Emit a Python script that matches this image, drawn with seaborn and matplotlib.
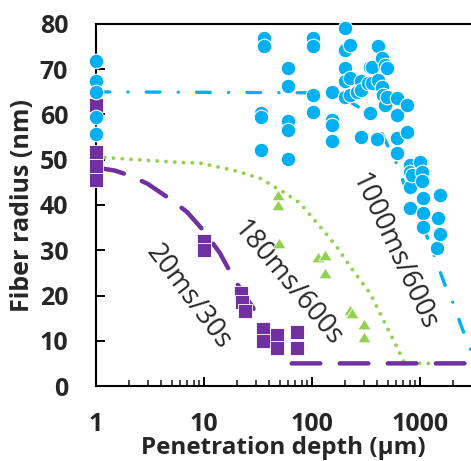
import matplotlib
matplotlib.use("Agg")
import matplotlib.pyplot as plt
import seaborn as sns
from matplotlib.ticker import LogLocator, NullFormatter, FixedLocator

sns.set_style("ticks")
plt.rcParams["font.family"] = ["Open Sans", "DejaVu Sans"]
plt.rcParams["lines.scale_dashes"] = False
plt.rcParams["xtick.direction"] = "in"
plt.rcParams["ytick.direction"] = "in"
plt.rcParams["xtick.major.pad"] = 18.5
plt.rcParams["ytick.major.pad"] = 20

# ---------------- data ----------------
blue_x = [1, 1, 1, 1, 1,
          33.6, 33.6, 33.6, 35.9, 35.9,
          60.3, 60.3, 60.3, 60.3, 60.3,
          101, 101, 101, 101,
          152, 152, 152, 152,
          202, 202, 202, 202, 202,
          225, 225, 225, 258,
          282, 282, 282, 333, 344, 344, 357, 357,
          398, 411, 411, 442, 442, 457, 473, 473, 491, 491,
          608, 608, 608, 608, 753, 753,
          808, 808, 808, 808, 837, 1000, 1037, 1037,
          1074, 1074, 1074, 1427, 1480, 1531, 1531]
blue_y = [71.8, 67.4, 64.9, 59.4, 55.6,
          60.4, 59.5, 52.2, 76.8, 75.2,
          70.2, 66.4, 58.6, 56.6, 50.2,
          77, 75.2, 64.4, 60.6,
          65, 58.8, 57.7, 54.1,
          79.2, 74.3, 70.2, 67.3, 63.9,
          75.4, 68, 64.3, 65,
          67.3, 65.4, 55.1, 66.9, 70.6, 60.3, 70.6, 66.9,
          54.6, 75.2, 67.6, 72.4, 66.1, 64.3, 71, 62.1, 70.2, 63.9,
          63.6, 59.9, 54.9, 51.6, 62.2, 56.1,
          48.8, 47.4, 44, 39.3, 46.6, 49.6, 47.4, 45.2,
          41.5, 38.2, 35.2, 30.4, 37.1, 42.2, 33.7]

purple_x = [1, 1, 1, 1, 10, 10, 22, 22.5, 24, 35, 35, 47, 47, 72, 72]
purple_y = [62.2, 51.8, 48.7, 45.5, 32, 30, 20.5, 18.5, 16.5, 12.5, 10, 11.3, 8.3, 12, 8.5]

green_x = [48.7, 48.7, 49, 114, 132, 132, 225, 232, 305, 305]
green_y = [42.2, 40, 31.5, 28.6, 29, 24.9, 16.8, 16.2, 13.7, 10.8]

# model curves
purple_line_x = [1, 1.5, 2, 3, 5, 7, 10, 14, 19, 28, 38, 50, 62, 4000]
purple_line_y = [48.3, 47.6, 46.6, 44.7, 41.1, 38.4, 34.2, 29.4, 23.6, 17.5, 12.4, 7.8, 5, 5]

green_line_x = [1, 6, 9, 18.7, 33, 54, 77.5, 119, 169, 225, 344, 457, 608, 720, 4000]
green_line_y = [50.6, 49.4, 49.3, 47.7, 45.9, 42.9, 40.4, 35.2, 30.8, 26.4, 20.5, 14.6, 8.7, 5, 5]

blue_line_x = [1, 100, 200, 300, 400, 490, 650, 700, 1000, 1330, 1700, 2050, 2350, 2750, 3000, 3300, 4000]
blue_line_y = [65, 64.8, 63.5, 61, 58, 53.6, 47.7, 45, 37, 29.3, 22.3, 18, 13.9, 9.6, 7.5, 5, 5]

x_ticks = [1, 10, 100, 1000]
x_tick_labels = ["1", "10", "100", "1000"]
y_ticks = [0, 10, 20, 30, 40, 50, 60, 70, 80]

labels = ["20ms/30s", "180ms/600s", "1000ms/600s"]

BLUE = "#00B0F0"
PURPLE = "#7030A0"
GREEN = "#92D050"

TRI = [(-1, -0.8), (1, -0.8), (0, 0.8), (-1, -0.8)]

# ---------------- figure ----------------
fig = plt.figure(figsize=(4.71, 4.61), dpi=100)
ax = fig.add_axes([96 / 471, 75 / 461, 375 / 471, 362 / 461])

sns.lineplot(x=blue_line_x, y=blue_line_y, ax=ax, color=BLUE, linewidth=2.4,
             estimator=None, sort=False, linestyle=(0, (9.8, 13.2, 0.01, 13.2)),
             dash_capstyle="round", zorder=2)
sns.lineplot(x=green_line_x, y=green_line_y, ax=ax, color=GREEN, linewidth=2.8,
             estimator=None, sort=False, linestyle=(0, (0.01, 6.3)),
             dash_capstyle="round", zorder=2)
sns.lineplot(x=purple_line_x, y=purple_line_y, ax=ax, color=PURPLE, linewidth=3.2,
             estimator=None, sort=False, linestyle=(0, (20.6, 14)),
             dash_capstyle="round", zorder=2)

sns.scatterplot(x=purple_x, y=purple_y, ax=ax, color=PURPLE, marker="s", s=98,
                edgecolor="white", linewidth=0.6, clip_on=False, zorder=4)
sns.scatterplot(x=green_x, y=green_y, ax=ax, color=GREEN, marker=TRI, s=92,
                edgecolor="white", linewidth=0.6, clip_on=False, zorder=4)
sns.scatterplot(x=blue_x, y=blue_y, ax=ax, color=BLUE, marker="o", s=110,
                edgecolor="white", linewidth=0.8, clip_on=False, zorder=5)

ax.set_xscale("log")
ax.set_xlim(1, 2960)
ax.set_ylim(0, 80)

ax.xaxis.set_major_locator(FixedLocator(x_ticks))
ax.set_xticklabels(x_tick_labels)
ax.xaxis.set_minor_locator(LogLocator(base=10, subs=range(2, 10)))
ax.xaxis.set_minor_formatter(NullFormatter())
ax.set_yticks(y_ticks)

for s in ["left", "bottom", "top"]:
    ax.spines[s].set_linewidth(1.5)
    ax.spines[s].set_color("black")
ax.spines["right"].set_visible(False)

ax.tick_params(axis="both", which="major", direction="in", length=6.5, width=1.4,
               labelsize=18, color="black")
ax.tick_params(axis="x", which="minor", direction="in", length=4.6, width=1.2)
ax.tick_params(axis="x", which="major", pad=18.5)
ax.tick_params(axis="y", which="major", pad=20)
ax.tick_params(axis="x", which="both", top=False)
for lab in ax.get_xticklabels() + ax.get_yticklabels():
    lab.set_fontweight("bold")

ax.set_xlabel("Penetration depth (µm)", fontsize=17.5, fontweight="bold", va="baseline")
ax.xaxis.set_label_coords(0.5, -0.188)
ax.set_ylabel("Fiber radius (nm)", fontsize=18, fontweight="bold", va="center", ha="center")
ax.yaxis.set_label_coords(-0.197, 0.5)

ax.text(0.246, 0.2445, labels[0], transform=ax.transAxes, rotation=-53,
        rotation_mode="anchor", ha="center", va="center", fontsize=19.5)
ax.text(0.511, 0.284, labels[1], transform=ax.transAxes, rotation=-50,
        rotation_mode="anchor", ha="center", va="center", fontsize=19.5)
ax.text(0.793, 0.371, labels[2], transform=ax.transAxes, rotation=-65,
        rotation_mode="anchor", ha="center", va="center", fontsize=19.5)

fig.savefig("out.png", dpi=100)
